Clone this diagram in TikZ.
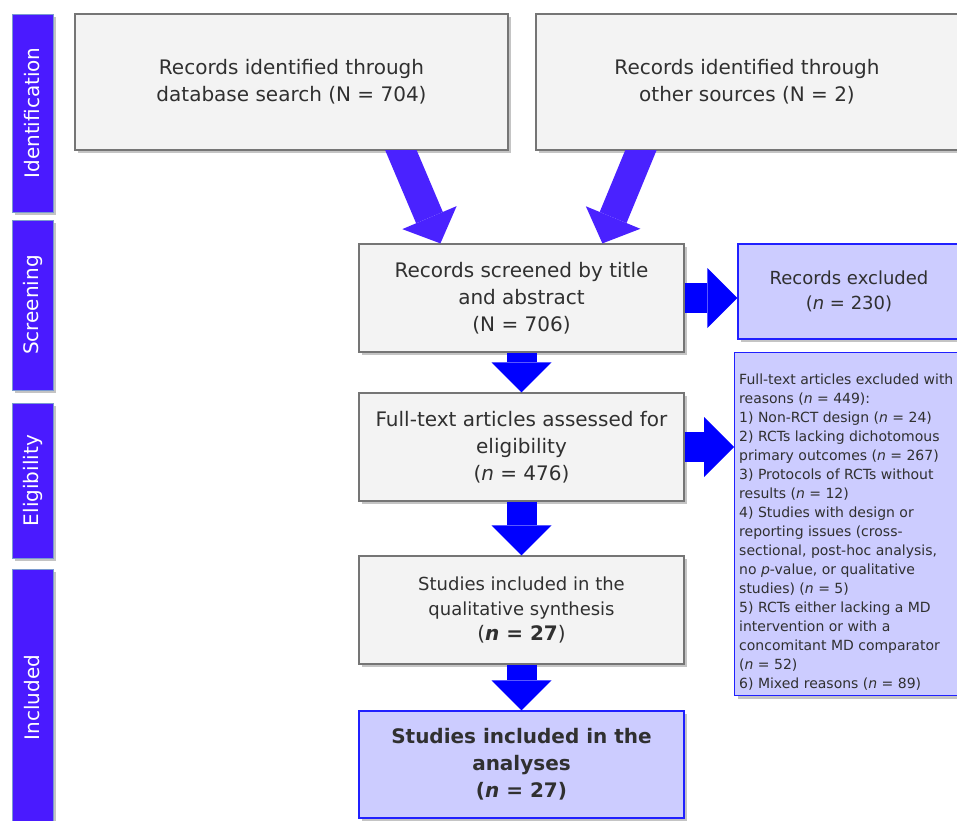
\documentclass[tikz,border=0pt]{standalone}
\usepackage{graphicx}
\usepackage{fontspec}
\setmainfont{DejaVu Sans}
\usetikzlibrary{arrows.meta,shadows,calc}
\definecolor{txt}{HTML}{303030}
\definecolor{gfill}{HTML}{F3F3F3}
\definecolor{gline}{HTML}{757575}
\definecolor{bfill}{HTML}{CCCCFF}
\definecolor{bline}{HTML}{2020FF}
\definecolor{sidefill}{HTML}{4A1AFF}
\definecolor{sideline}{HTML}{7A9AD0}
\definecolor{arrv}{HTML}{0000FF}
\definecolor{arrd}{HTML}{4A22FF}
\definecolor{shadc}{HTML}{C4C4C4}
\begin{document}
\begin{tikzpicture}[x=1pt,y=-1pt,
  shad/.style={drop shadow={shadow xshift=3pt,shadow yshift=-3pt,fill=shadc,opacity=1}},
  greybox/.style={shad,draw=gline,fill=gfill,line width=1.2pt,text=txt,align=center,inner sep=0pt},
  bluebox/.style={shad,draw=bline,fill=bfill,line width=1.2pt,text=txt,align=center,inner sep=0pt},
  sidebox/.style={shad,draw=sideline,fill=sidefill,line width=1pt,text=white,inner sep=0pt,minimum width=41pt,
    font=\fontsize{20pt}{24pt}\selectfont},
  bigtext/.style={font=\fontsize{20pt}{27pt}\selectfont},
  boldtext/.style={font=\fontsize{20pt}{27pt}\selectfont\bfseries},
  midtext/.style={font=\fontsize{18pt}{25pt}\selectfont},
  listtext/.style={font=\fontsize{14pt}{19pt}\selectfont,text=txt,align=left,inner sep=0pt},
  blockv/.style={arrv,line width=30pt,-{Triangle[length=30pt,width=60pt,line width=0pt]}},
  blockd/.style={arrd,line width=29pt,-{Triangle[length=28pt,width=59pt,line width=0pt]}},
]
\useasboundingbox (0,0) rectangle (957,820);
\clip (0,0) rectangle (957,820);

% phase sidebars
\node[sidebox,minimum height=198pt] (s1) at (32.5,113) {\rotatebox{90}{Identification}};
\node[sidebox,minimum height=170pt] (s2) at (32.5,305) {\rotatebox{90}{Screening}};
\node[sidebox,minimum height=155pt] (s3) at (32.5,480.5) {\rotatebox{90}{Eligibility}};
\node[sidebox,minimum height=257pt] (s4) at (32.5,697.5) {\rotatebox{90}{Included}};

% boxes
\node[greybox,bigtext,minimum width=433pt,minimum height=136pt] (id1) at (291.5,82)
  {Records identified through\\database search (N = 704)};
\node[greybox,bigtext,minimum width=422pt,minimum height=136pt] (id2) at (747,82)
  {Records identified through\\other sources (N = 2)};
\node[greybox,bigtext,minimum width=325pt,minimum height=108pt] (scr) at (521.5,298)
  {Records screened by title\\and abstract\\(N = 706)};
\node[greybox,bigtext,minimum width=325pt,minimum height=108pt] (ft) at (521.5,447)
  {Full-text articles assessed for\\eligibility\\(\textit{n} = 476)};
\node[greybox,midtext,minimum width=325pt,minimum height=108pt] (qual) at (521.5,610)
  {Studies included in the\\qualitative synthesis\\{\fontsize{20pt}{25pt}\selectfont(\textbf{\textit{n} = 27})}};
\node[bluebox,boldtext,minimum width=325pt,minimum height=107pt] (ana) at (521.5,764.5)
  {Studies included in the\\analyses\\(\textit{n} = 27)};
\node[bluebox,midtext,minimum width=222pt,minimum height=95pt] (ex1) at (849,291.5)
  {Records excluded\\(\textit{n} = 230)};
\node[bluebox,anchor=north west,minimum width=240pt,minimum height=343pt] (ex2) at (734,352) {};
\node[listtext,anchor=north west] (ex2t) at ($(ex2.north west)+(5,22)$)
  {Full-text articles excluded with\\
   reasons (\textit{n} = 449):\\
   1) Non-RCT design (\textit{n} = 24)\\
   2) RCTs lacking dichotomous\\
   primary outcomes (\textit{n} = 267)\\
   3) Protocols of RCTs without\\
   results (\textit{n} = 12)\\
   4) Studies with design or\\
   reporting issues (cross-\\
   sectional, post-hoc analysis,\\
   no \textit{p}-value, or qualitative\\
   studies) (\textit{n} = 5)\\
   5) RCTs either lacking a MD\\
   intervention or with a\\
   concomitant MD comparator\\
   (\textit{n} = 52)\\
   6) Mixed reasons (\textit{n} = 89)};

% block arrows
\begin{scope}
  \clip (0,150) rectangle (957,820);
  \draw[blockd] ($(id1.south west)+(318.2,-20)$) -- ($(scr.north west)+(82,0)$);
  \draw[blockd] ($(id2.south west)+(113.6,-20)$) -- ($(scr.north west)+(244,0)$);
\end{scope}
\draw[blockv] (scr.south) -- (ft.north);
\draw[blockv] (ft.south) -- (qual.north);
\draw[blockv] (qual.south) -- (ana.north);
\draw[blockv] (scr.east) -- (scr.east -| ex1.west);
\draw[blockv] (ft.east) -- (ft.east -| ex2.west);
\end{tikzpicture}
\end{document}
